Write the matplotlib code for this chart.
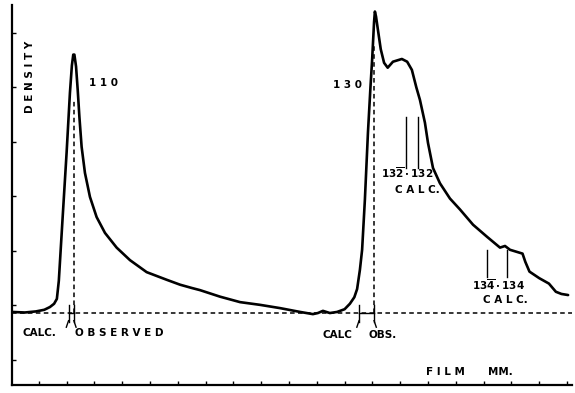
import matplotlib
matplotlib.use("Agg")
import matplotlib.pyplot as plt

# Densitometer trace (film position in mm-units, density)
film_mm = [0.04, 0.50, 0.90, 1.20, 1.40, 1.55, 1.65, 1.72, 1.85, 2.00, 2.12, 2.19, 2.24,
           2.28, 2.34, 2.40, 2.46, 2.54, 2.66, 2.84, 3.08, 3.38, 3.80, 4.28, 4.88,
           5.60, 6.08, 6.50, 6.80, 7.52, 8.24, 8.96, 9.68, 10.40, 10.86, 11.04, 11.22,
           11.47, 11.73, 12.00, 12.19, 12.35, 12.45, 12.55, 12.63, 12.73, 12.84, 12.93,
           12.99, 13.06, 13.09, 13.13, 13.20, 13.30, 13.42, 13.55, 13.74, 14.06, 14.25,
           14.42, 14.58, 14.71, 14.89, 15.00, 15.18, 15.43, 15.79, 16.15, 16.62, 17.12,
           17.59, 17.77, 17.95, 18.40, 18.50, 18.65, 19.00, 19.35, 19.60, 19.80, 20.04]
density = [1.88, 1.87, 1.89, 1.92, 1.97, 2.03, 2.12, 2.45, 3.55, 4.80, 5.90, 6.40, 6.60,
           6.60, 6.38, 5.95, 5.46, 4.91, 4.43, 3.99, 3.62, 3.33, 3.06, 2.83, 2.61,
           2.47, 2.38, 2.32, 2.28, 2.16, 2.06, 2.01, 1.95, 1.88, 1.84, 1.86, 1.90,
           1.86, 1.88, 1.93, 2.03, 2.15, 2.30, 2.65, 3.02, 3.94, 5.17, 6.00,
           6.50, 7.20, 7.39, 7.30, 7.05, 6.70, 6.45, 6.36, 6.47, 6.52, 6.47,
           6.32, 6.00, 5.77, 5.35, 4.98, 4.52, 4.24, 3.96, 3.76, 3.48, 3.26,
           3.06, 3.09, 3.02, 2.95, 2.80, 2.62, 2.50, 2.40, 2.25, 2.21, 2.19]

baseline = 1.86
peak_labels = ["1 1 0", "1 3 0"]
peak_label_x = [3.31, 12.09]
peak_label_y = [6.08, 6.05]
peak_obs = [2.26, 13.06]
peak_calc = [2.07, 12.52]
peak_dash_top = [5.77, 6.78]

calc_132 = [14.21, 14.64]
calc_134 = [17.12, 17.84]

xticks = list(range(1, 21))
yticks = list(range(1, 8))

fig = plt.figure(figsize=(5.75, 3.93), dpi=100)
ax = fig.add_axes([12 / 575, 8 / 393, 560 / 575, 380 / 393])
ax.set_xlim(0.036, 20.18)
ax.set_ylim(0.54, 7.51)

ax.plot(film_mm, density, color="black", lw=1.9, solid_joinstyle="round",
        solid_capstyle="round")

dash = (0, (3, 2.2))
ax.axhline(baseline, color="black", lw=1.1, ls=dash)
for xo, top in zip(peak_obs, peak_dash_top):
    ax.plot([xo, xo], [baseline, top], color="black", lw=1.1, ls=dash)

# calc / observed markers
for xc, xo in zip(peak_calc, peak_obs):
    for xx in (xc, xo):
        ax.plot([xx, xx], [1.70, 2.0], color="black", lw=1.0)
    ax.plot([xc, xo], [baseline, baseline], color="black", lw=1.0)
    ax.plot([xc, xc - 0.08], [1.72, 1.60], color="black", lw=1.0)
    ax.plot([xo, xo + 0.08], [1.72, 1.60], color="black", lw=1.0)

for xx in calc_132:
    ax.plot([xx, xx], [4.52, 5.46], color="black", lw=1.0)
for xx in calc_134:
    ax.plot([xx, xx], [2.52, 3.02], color="black", lw=1.0)

tk = dict(fontsize=7.5, fontweight="bold", color="black", ha="center", va="center",
          family="DejaVu Sans")
for lab, lx, ly in zip(peak_labels, peak_label_x, peak_label_y):
    ax.text(lx, ly, lab, **tk)
ax.text(0.68, 6.19, "D E N S I T Y", rotation=90, **tk)
ax.text(1.04, 1.50, "CALC.", **tk)
ax.text(3.88, 1.50, "O B S E R V E D", **tk)
ax.text(11.76, 1.46, "CALC", **tk)
ax.text(13.38, 1.46, "OBS.", **tk)
ax.text(14.24, 4.43, r"$\mathbf{13\overline{2}\cdot 132}$", **tk)
ax.text(14.60, 4.12, "C A L C.", **tk)
ax.text(17.52, 2.38, r"$\mathbf{13\overline{4}\cdot 134}$", **tk)
ax.text(17.77, 2.10, "C A L C.", **tk)
ax.text(15.61, 0.78, "F I L M", **tk)
ax.text(17.59, 0.78, "MM.", **tk)

for s in ("top", "right"):
    ax.spines[s].set_visible(False)
for s in ("left", "bottom"):
    ax.spines[s].set_linewidth(1.6)
ax.set_xticks(xticks)
ax.set_yticks(yticks)
ax.tick_params(direction="in", length=3, width=1.0, labelbottom=False, labelleft=False)

fig.savefig("out.png", dpi=100)
